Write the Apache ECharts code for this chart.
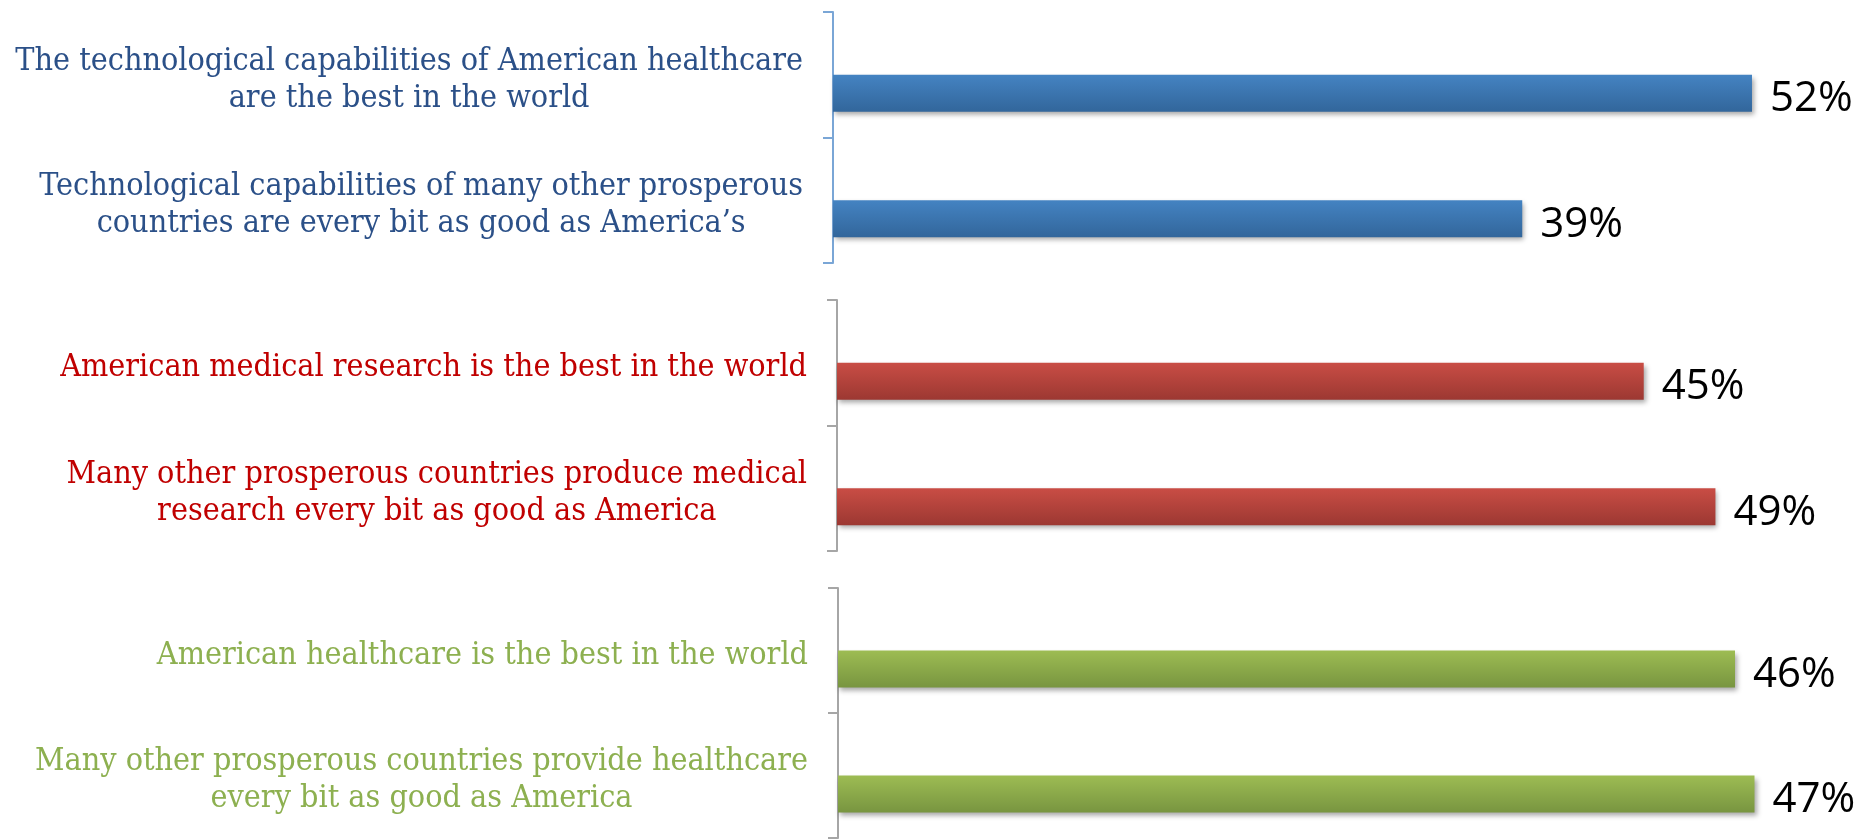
<!DOCTYPE html>
<html>
<head>
<meta charset="utf-8">
<script src="https://cdn.jsdelivr.net/npm/echarts@6/dist/echarts.min.js"></script>
<style>
  html, body { margin: 0; padding: 0; background: #ffffff; }
  #chart { width: 1859px; height: 839px; }
</style>
</head>
<body>
<div id="chart"></div>
<script>
// Survey statements, grouped by topic (top to bottom)
const techCategories = [
  'The technological capabilities of American healthcare\nare the best in the world',
  'Technological capabilities of many other prosperous\ncountries are every bit as good as America\u2019s'
];
const techValues = [52, 39];

const researchCategories = [
  'American medical research is the best in the world',
  'Many other prosperous countries produce medical\nresearch every bit as good as America'
];
const researchValues = [45, 49];

const careCategories = [
  'American healthcare is the best in the world',
  'Many other prosperous countries provide healthcare\nevery bit as good as America'
];
const careValues = [46, 47];

const LABEL_FONT = "'DejaVu Serif Condensed', 'DejaVu Serif', serif";
const VALUE_FONT = "'Open Sans', 'Noto Sans', sans-serif";

// Each topic is its own small bar chart with its own scale
const panels = [
  { categories: techCategories, values: techValues, max: 55,
    grid: { left: 833, top: 12, width: 972, height: 251 },
    text: '#2b5088', axis: '#7aa6d6', top: '#4483c2', bottom: '#32669b' },
  { categories: researchCategories, values: researchValues, max: 55,
    grid: { left: 837, top: 300, width: 986, height: 251 },
    text: '#c00000', axis: '#a6a6a6', top: '#c94d45', bottom: '#9c3832' },
  { categories: careCategories, values: careValues, max: 50,
    grid: { left: 838, top: 588, width: 975, height: 250 },
    text: '#8db050', axis: '#a6a6a6', top: '#9dbc53', bottom: '#789540' }
];

const grid = [], xAxis = [], yAxis = [], series = [];

panels.forEach((p, i) => {
  grid.push(Object.assign({ containLabel: false }, p.grid));
  xAxis.push({ type: 'value', gridIndex: i, min: 0, max: p.max, show: false });
  yAxis.push({
    type: 'category',
    gridIndex: i,
    inverse: true,
    data: p.categories,
    axisLine: { show: true, lineStyle: { color: p.axis, width: 2 } },
    axisTick: { show: true, length: 10, lineStyle: { color: p.axis, width: 2 } },
    splitLine: { show: false },
    axisLabel: {
      margin: 30,
      padding: [10, 0, 0, 0],
      formatter: v => v.split('\n').map(s => '{c|' + s + '}').join('\n'),
      rich: {
        c: { align: 'center', fontFamily: LABEL_FONT, fontSize: 32, lineHeight: 37, color: p.text }
      }
    }
  });
  // empty slot so each bar sits just below its category centre
  series.push({
    type: 'bar', name: 'slot' + i, xAxisIndex: i, yAxisIndex: i,
    barWidth: 37, barGap: '0%', silent: true,
    data: p.values.map(() => '-')
  });
  series.push({
    type: 'bar', name: 'share' + i, xAxisIndex: i, yAxisIndex: i,
    barWidth: 37, barGap: '0%',
    data: p.values,
    itemStyle: {
      color: new echarts.graphic.LinearGradient(0, 0, 0, 1, [
        { offset: 0, color: p.top },
        { offset: 1, color: p.bottom }
      ]),
      shadowColor: 'rgba(0,0,0,0.35)',
      shadowBlur: 5,
      shadowOffsetX: 2,
      shadowOffsetY: 3
    },
    label: {
      show: true,
      position: 'right',
      distance: 18,
      offset: [0, 6],
      formatter: '{c}%',
      fontFamily: VALUE_FONT,
      fontSize: 42,
      color: '#000000'
    }
  });
});

const chart = echarts.init(document.getElementById('chart'), null, { renderer: 'canvas' });
chart.setOption({
  animation: false,
  backgroundColor: '#ffffff',
  grid, xAxis, yAxis, series
});
</script>
</body>
</html>
